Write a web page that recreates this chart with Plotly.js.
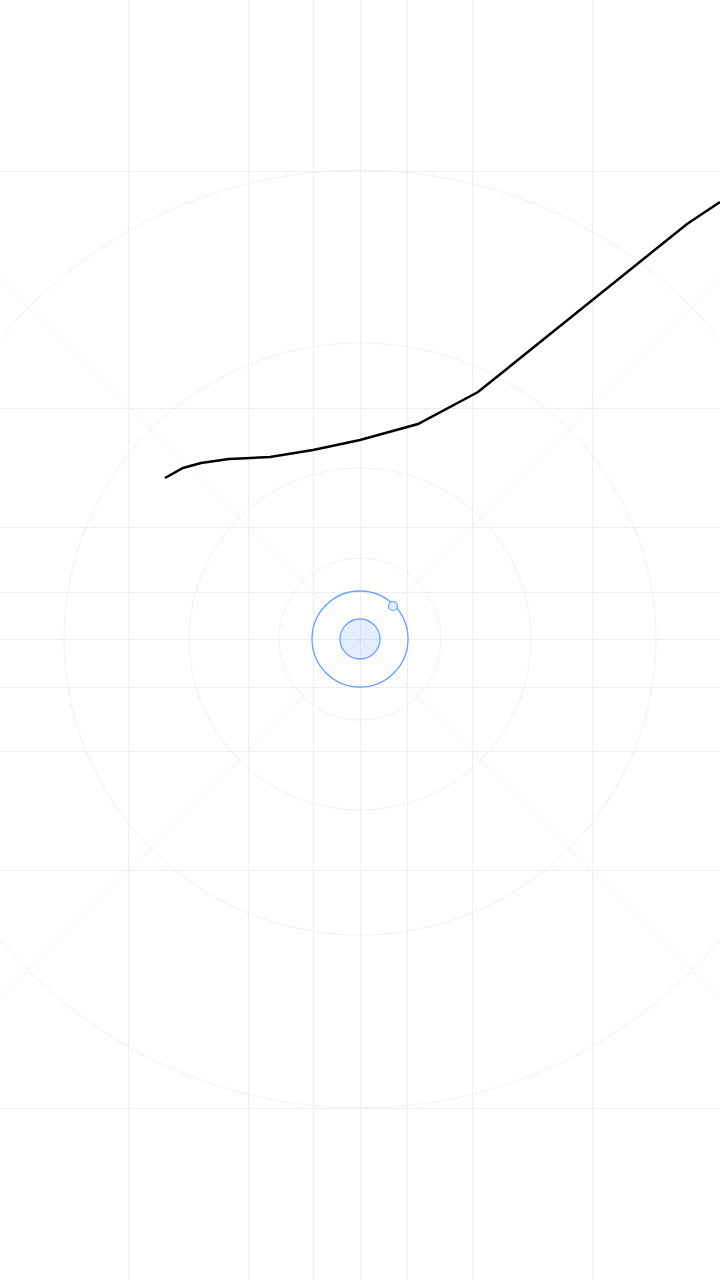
<!DOCTYPE html>
<html>
<head>
<meta charset="utf-8">
<script src="https://cdn.plot.ly/plotly-3.0.1.min.js"></script>
<style>html,body{margin:0;padding:0;background:#fff;}#chart{width:720px;height:1280px;}</style>
</head>
<body>
<div id="chart"></div>
<script>
// Black line series (x right, y up, origin at keyline centre)
const lineX = [-195, -177, -159, -131, -90, -47, 0, 58, 118, 327, 360];
const lineY = [161, 171, 176, 180, 182, 189, 199, 215, 247, 415, 437];

// Keyline grid positions
const gridX = [-232, -112, -47, 0, 47, 112, 232];
const gridY = [468, 231, 112, 47, 0, -48, -112, -231, -469];
const keyCircles = [469, 296, 171, 81];

// Icon geometry
const iconOuterR = [48];
const iconInnerR = [20];
const iconDot = {x: [33], y: [33], r: [4.5]};

const gridColor = '#eeeeee';
const blue = '#6a9eff';

const shapes = [];
keyCircles.forEach(r => shapes.push({type: 'circle', xref: 'x', yref: 'y', x0: -r, x1: r, y0: -r, y1: r,
  line: {color: '#f0f0f0', width: 1}, layer: 'below'}));
// diagonals
shapes.push({type: 'line', xref: 'x', yref: 'y', x0: -700, y0: -700, x1: 700, y1: 700, line: {color: '#f0f0f0', width: 1}, layer: 'below'});
shapes.push({type: 'line', xref: 'x', yref: 'y', x0: -700, y0: 700, x1: 700, y1: -700, line: {color: '#f0f0f0', width: 1}, layer: 'below'});
// icon
iconOuterR.forEach(r => shapes.push({type: 'circle', xref: 'x', yref: 'y', x0: -r, x1: r, y0: -r, y1: r,
  line: {color: blue, width: 1.3}, fillcolor: 'rgba(0,0,0,0)'}));
iconInnerR.forEach(r => shapes.push({type: 'circle', xref: 'x', yref: 'y', x0: -r, x1: r, y0: -r, y1: r,
  line: {color: blue, width: 1.3}, fillcolor: 'rgba(106,158,255,0.18)'}));
iconDot.x.forEach((cx, i) => {
  const cy = iconDot.y[i], r = iconDot.r[i];
  shapes.push({type: 'circle', xref: 'x', yref: 'y', x0: cx - r, x1: cx + r, y0: cy - r, y1: cy + r,
    line: {color: blue, width: 1.2}, fillcolor: '#e3ecff'});
});

const trace = {
  x: lineX, y: lineY, type: 'scatter', mode: 'lines',
  line: {color: '#000000', width: 2.5}, hoverinfo: 'skip', showlegend: false
};

const layout = {
  width: 720, height: 1280,
  margin: {l: 0, r: 0, t: 0, b: 0, pad: 0},
  paper_bgcolor: '#ffffff', plot_bgcolor: '#ffffff',
  showlegend: false,
  xaxis: {range: [-360, 360], tickmode: 'array', tickvals: gridX, showticklabels: false, ticks: '',
    showgrid: true, gridcolor: gridColor, gridwidth: 1, zeroline: false, showline: false, fixedrange: true},
  yaxis: {range: [-641, 639], tickmode: 'array', tickvals: gridY, showticklabels: false, ticks: '',
    showgrid: true, gridcolor: gridColor, gridwidth: 1, zeroline: false, showline: false, fixedrange: true},
  shapes: shapes
};

Plotly.newPlot('chart', [trace], layout, {staticPlot: true, displayModeBar: false});
</script>
</body>
</html>
